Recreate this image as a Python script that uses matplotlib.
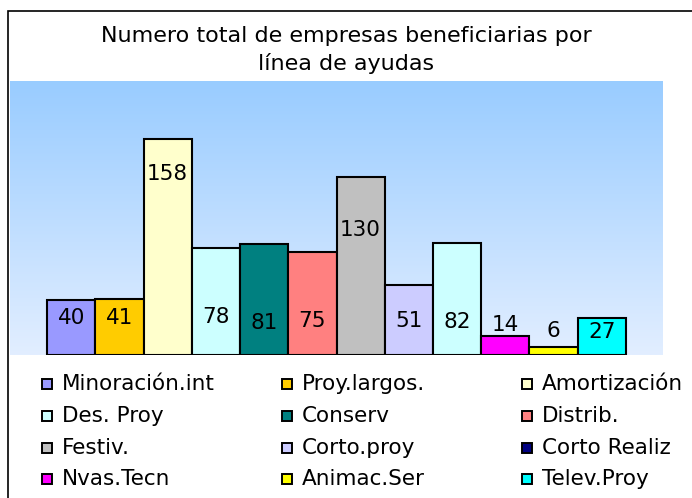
import numpy as np
import matplotlib
matplotlib.use("Agg")
import matplotlib.pyplot as plt
from matplotlib.patches import Rectangle
from matplotlib.colors import LinearSegmentedColormap

# data
categories = ["Minoración.int", "Proy.largos.", "Amortización", "Des. Proy",
              "Conserv", "Distrib.", "Festiv.", "Corto.proy", "Corto Realiz",
              "Nvas.Tecn", "Animac.Ser", "Telev.Proy"]
values = [40, 41, 158, 78, 81, 75, 130, 51, 82, 14, 6, 27]
bar_colors = ["#9999FF", "#FFCC00", "#FFFFCC", "#CCFFFF", "#008080", "#FF8080",
              "#C0C0C0", "#CCCCFF", "#CCFFFF", "#FF00FF", "#FFFF00", "#00FFFF"]
legend_colors = ["#9999FF", "#FFCC00", "#FFFFCC", "#CCFFFF", "#008080", "#FF8080",
                 "#C0C0C0", "#CCCCFF", "#000080", "#FF00FF", "#FFFF00", "#00FFFF"]
# where each value label sits (data units), as in the original
label_y = [27, 27, 132, 28, 23, 25, 91, 25, 24, 22, 17.5, 17]

W, H = 692, 498
fig = plt.figure(figsize=(W / 100, H / 100), dpi=100)
fig.patches.append(Rectangle((7.5 / W, -0.01), 1.0, (498 - 11) / H + 0.01,
                             transform=fig.transFigure, fill=False,
                             edgecolor="black", linewidth=1.2))

ax = fig.add_axes([10 / W, 143 / H, 653 / W, 274 / H])
grad = np.linspace(0, 1, 256).reshape(-1, 1)
cmap = LinearSegmentedColormap.from_list("bg", ["#99CCFF", "#E2EEFF"])
ax.imshow(grad, aspect="auto", cmap=cmap, extent=[0, 1, 0, 1],
          transform=ax.transAxes, zorder=0)

x = np.arange(len(values))
ax.bar(x, values, width=1.0, color=bar_colors, edgecolor="black",
       linewidth=1.5, zorder=2)
for xi, v, ly in zip(x, values, label_y):
    ax.text(xi, ly, str(v), ha="center", va="center", fontsize=15.5, zorder=3)

ax.set_xlim(-1.27, 12.27)
ax.set_ylim(0, 200)
for s in ax.spines.values():
    s.set_visible(False)
ax.set_xticks([])
ax.set_yticks([])

fig.text(0.5, 1 - 36 / H, "Numero total de empresas beneficiarias por",
         ha="center", va="center", fontsize=16)
fig.text(0.5, 1 - 63 / H, "línea de ayudas", ha="center", va="center",
         fontsize=16)

# legend, drawn by hand in a 3 x 4 grid (row by row like the original)
col_x = [42, 282, 522]
row_y = [384, 416, 448, 479]
for i, (name, c) in enumerate(zip(categories, legend_colors)):
    r, k = divmod(i, 3)
    x0, y0 = col_x[k], row_y[r]
    fig.patches.append(Rectangle((x0 / W, 1 - (y0 + 5) / H), 10 / W, 10 / H,
                                 transform=fig.transFigure, facecolor=c,
                                 edgecolor="black", linewidth=1.4))
    fig.text((x0 + 20) / W, 1 - y0 / H, name, ha="left", va="center",
             fontsize=15.5)

fig.savefig("out.png", dpi=100)
